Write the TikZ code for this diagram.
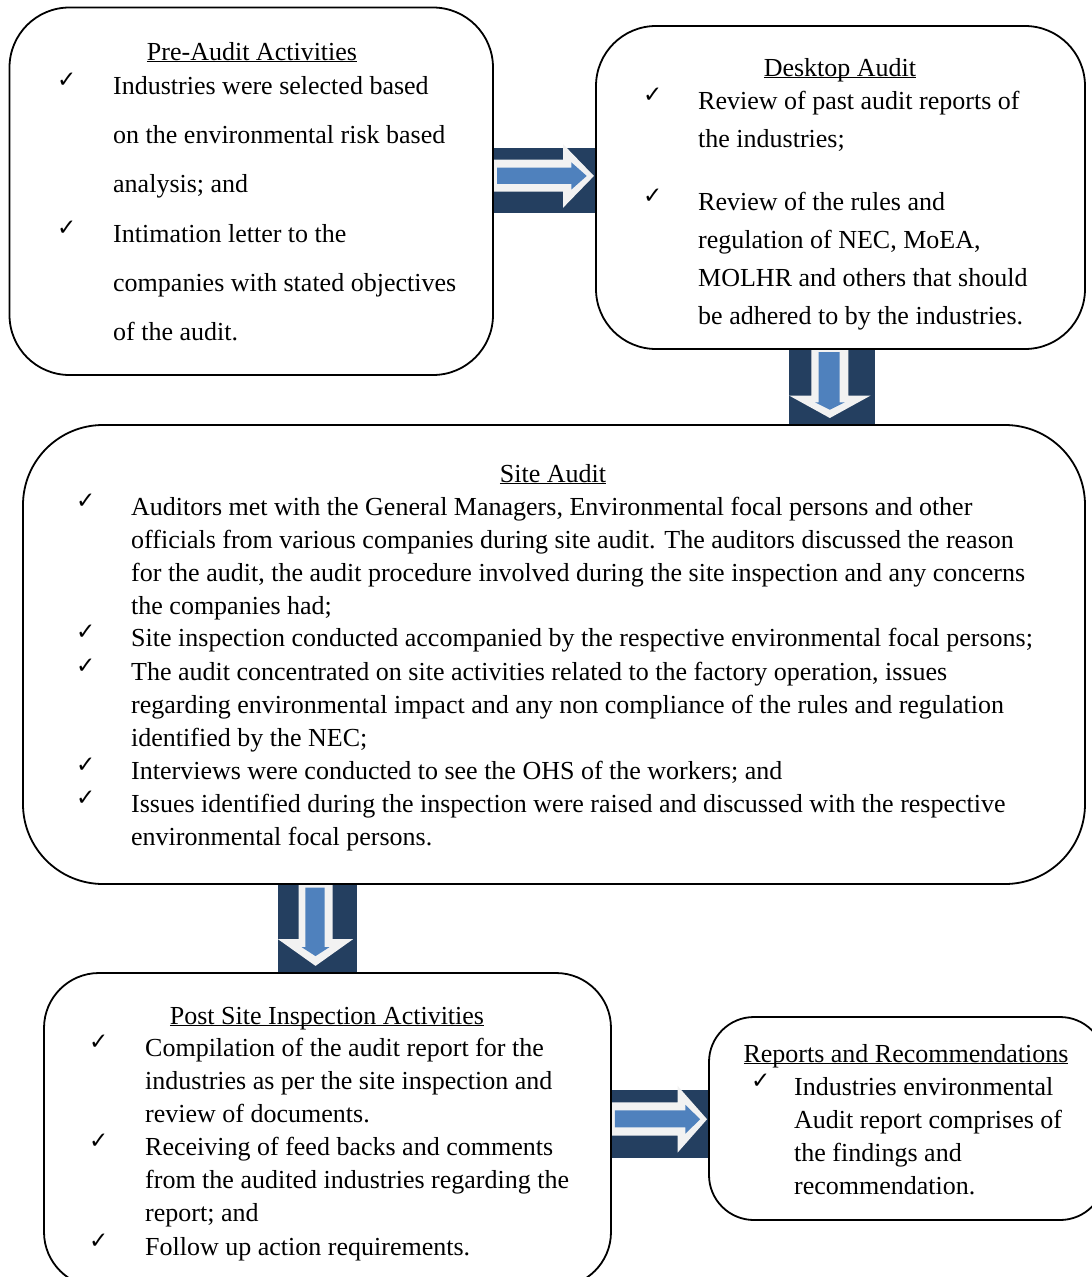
\documentclass[tikz,border=0pt]{standalone}
\usepackage{fontspec}
\setmainfont{Liberation Serif}
\newfontfamily\chkfont{DejaVu Sans Bold}
\definecolor{navy}{HTML}{243F60}
\definecolor{pale}{HTML}{F2F2F2}
\definecolor{steel}{HTML}{4F81BD}
\newcommand\ttl[1]{\underline{\smash{#1}}}
\newcommand\para[2]{\parbox[t]{960pt}{\fontsize{26}{#1}\selectfont\raggedright #2}}
% right-pointing block arrow in rectangle x #1..#2, y #3..#4
\newcommand\rarrow[4]{%
  \fill[navy] (#1,#3) rectangle (#2,#4);
  \fill[pale] (#1,{#3+0.18*(#4-#3)}) -- ({#1+0.68*(#2-#1)},{#3+0.18*(#4-#3)})
    -- ({#1+0.68*(#2-#1)},{#3-0.06*(#4-#3)}) -- ({#1+0.98*(#2-#1)},{#3+0.43*(#4-#3)})
    -- ({#1+0.68*(#2-#1)},{#3+0.92*(#4-#3)}) -- ({#1+0.68*(#2-#1)},{#3+0.67*(#4-#3)})
    -- (#1,{#3+0.67*(#4-#3)}) -- cycle;
  \fill[steel] ({#1+0.04*(#2-#1)},{#3+0.30*(#4-#3)}) -- ({#1+0.76*(#2-#1)},{#3+0.30*(#4-#3)})
    -- ({#1+0.76*(#2-#1)},{#3+0.22*(#4-#3)}) -- ({#1+0.91*(#2-#1)},{#3+0.43*(#4-#3)})
    -- ({#1+0.76*(#2-#1)},{#3+0.64*(#4-#3)}) -- ({#1+0.76*(#2-#1)},{#3+0.55*(#4-#3)})
    -- ({#1+0.04*(#2-#1)},{#3+0.55*(#4-#3)}) -- cycle;}
% down-pointing block arrow in rectangle x #1..#2, y #3..#4
\newcommand\darrow[4]{%
  \fill[navy] (#1,#3) rectangle (#2,#4);
  \fill[pale] ({#1+0.26*(#2-#1)},#3) -- ({#1+0.26*(#2-#1)},{#3+0.62*(#4-#3)})
    -- (#1,{#3+0.62*(#4-#3)}) -- ({#1+0.475*(#2-#1)},{#3+0.92*(#4-#3)})
    -- ({#1+0.95*(#2-#1)},{#3+0.62*(#4-#3)}) -- ({#1+0.69*(#2-#1)},{#3+0.62*(#4-#3)})
    -- ({#1+0.69*(#2-#1)},#3) -- cycle;
  \fill[steel] ({#1+0.345*(#2-#1)},{#3+0.04*(#4-#3)}) -- ({#1+0.345*(#2-#1)},{#3+0.71*(#4-#3)})
    -- ({#1+0.30*(#2-#1)},{#3+0.71*(#4-#3)}) -- ({#1+0.475*(#2-#1)},{#3+0.81*(#4-#3)})
    -- ({#1+0.65*(#2-#1)},{#3+0.71*(#4-#3)}) -- ({#1+0.59*(#2-#1)},{#3+0.71*(#4-#3)})
    -- ({#1+0.59*(#2-#1)},{#3+0.04*(#4-#3)}) -- cycle;}
\begin{document}
\begin{tikzpicture}[x=1pt,y=-1pt,
  box/.style={draw=black,line width=1.8pt,inner sep=0pt},
  txt/.style={anchor=base west,inner sep=0pt},
  ttlnode/.style={anchor=base,inner sep=0pt,font=\fontsize{26}{33}\selectfont},
  chk/.style={anchor=base west,inner sep=0pt,font=\chkfont\fontsize{23}{26}\selectfont}]
\useasboundingbox (0,0) rectangle (1092,1277);
\clip (0,0) rectangle (1092,1277);
\fill[white] (0,0) rectangle (1092,1277);

% block arrows between the boxes
\rarrow{493}{596}{148}{213}
\darrow{789}{875}{349}{424}
\darrow{278}{357}{884}{973}
\rarrow{611}{709}{1090}{1158}

% boxes
\node[box,rounded corners=60pt,minimum width=483.5pt,minimum height=367.5pt] (pre) at (251.25,191.25) {};
\node[box,rounded corners=60pt,minimum width=489pt,minimum height=323pt] (desk) at (840.5,187.5) {};
\node[box,rounded corners=80pt,minimum width=1062pt,minimum height=459pt] (site) at (554,654.5) {};
\node[box,rounded corners=55pt,minimum width=567pt,minimum height=314pt] (post) at (327.5,1130) {};
\node[box,rounded corners=45pt,minimum width=396pt,minimum height=203pt] (rep) at (907,1118.5) {};

% Pre-Audit Activities
\node[ttlnode] (preT) at (252,60) {\ttl{Pre-Audit Activities}};
\node[chk] (preC1) at (57,87) {✓};
\node[txt] (preP1) at (113,94) {\para{49.4}{Industries were selected based\\on the environmental risk based\\analysis; and}};
\node[chk] (preC2) at (57,235) {✓};
\node[txt] (preP2) at (113,242) {\para{49.4}{Intimation letter to the\\companies with stated objectives\\of the audit.}};

% Desktop Audit
\node[ttlnode] (deskT) at (840,76) {\ttl{Desktop Audit}};
\node[chk] (deskC1) at (643,102) {✓};
\node[txt] (deskP1) at (698,109) {\para{38}{Review of past audit reports of\\the industries;}};
\node[chk] (deskC2) at (643,203) {✓};
\node[txt] (deskP2) at (698,210) {\para{38}{Review of the rules and\\regulation of NEC, MoEA,\\MOLHR and others that should\\be adhered to by the industries.}};

% Site Audit
\node[ttlnode] (siteT) at (553,482) {\ttl{Site Audit}};
\node[chk] (siteC1) at (76,508) {✓};
\node[txt] (siteP1) at (131,515) {\para{33}{Auditors met with the General Managers, Environmental focal persons and other\\officials from various companies during site audit. The auditors discussed the reason\\for the audit, the audit procedure involved during the site inspection and any concerns\\the companies had;}};
\node[chk] (siteC2) at (76,639) {✓};
\node[txt] (siteP2) at (131,646) {\para{33}{Site inspection conducted accompanied by the respective environmental focal persons;}};
\node[chk] (siteC3) at (76,673) {✓};
\node[txt] (siteP3) at (131,680) {\para{33}{The audit concentrated on site activities related to the factory operation, issues\\regarding environmental impact and any non compliance of the rules and regulation\\identified by the NEC;}};
\node[chk] (siteC4) at (76,772) {✓};
\node[txt] (siteP4) at (131,779) {\para{33}{Interviews were conducted to see the OHS of the workers; and}};
\node[chk] (siteC5) at (76,805) {✓};
\node[txt] (siteP5) at (131,812) {\para{33}{Issues identified during the inspection were raised and discussed with the respective\\environmental focal persons.}};

% Post Site Inspection Activities
\node[ttlnode] (postT) at (327,1024) {\ttl{Post Site Inspection Activities}};
\node[chk] (postC1) at (89,1049) {✓};
\node[txt] (postP1) at (145,1056) {\para{33}{Compilation of the audit report for the\\industries as per the site inspection and\\review of documents.}};
\node[chk] (postC2) at (89,1148) {✓};
\node[txt] (postP2) at (145,1155) {\para{33}{Receiving of feed backs and comments\\from the audited industries regarding the\\report; and}};
\node[chk] (postC3) at (89,1248) {✓};
\node[txt] (postP3) at (145,1255) {\para{33}{Follow up action requirements.}};

% Reports and Recommendations
\node[ttlnode] (repT) at (906,1062) {\ttl{Reports and Recommendations}};
\node[chk] (repC1) at (751,1088) {✓};
\node[txt] (repP1) at (794,1095) {\para{33}{Industries environmental\\Audit report comprises of\\the findings and\\recommendation.}};
\end{tikzpicture}
\end{document}
